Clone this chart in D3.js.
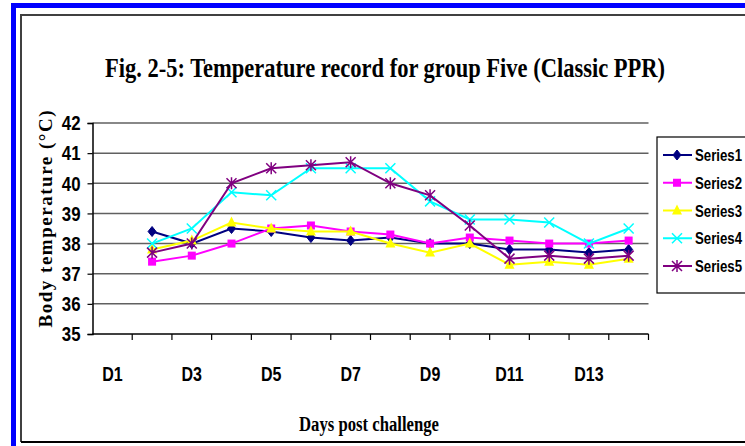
<!DOCTYPE html>
<html>
<head>
<meta charset="utf-8">
<script src="https://cdn.jsdelivr.net/npm/d3@7"></script>
<style>
body { margin: 0; background: #fff; }
svg { display: block; }
</style>
</head>
<body>
<svg width="745" height="446"></svg>
<script>
// data (D1 has no reading)
var days = ["D1","D2","D3","D4","D5","D6","D7","D8","D9","D10","D11","D12","D13","D14"];
var tickLabels = ["D1","D3","D5","D7","D9","D11","D13"];
var yTicks = [35,36,37,38,39,40,41,42];
var seriesNames = ["Series1","Series2","Series3","Series4","Series5"];
var series1 = [null,38.4,38.0,38.5,38.4,38.2,38.1,38.2,38.0,38.0,37.8,37.8,37.7,37.8];
var series2 = [null,37.4,37.6,38.0,38.5,38.6,38.4,38.3,38.0,38.2,38.1,38.0,38.0,38.1];
var series3 = [null,37.8,38.1,38.7,38.5,38.4,38.4,38.0,37.7,38.0,37.3,37.4,37.3,37.5];
var series4 = [null,38.0,38.5,39.7,39.6,40.5,40.5,40.5,39.4,38.8,38.8,38.7,38.0,38.5];
var series5 = [null,37.7,38.0,40.0,40.5,40.6,40.7,40.0,39.6,38.6,37.5,37.6,37.5,37.6];

var colors = ["#000080","#ff00ff","#ffff00","#00ffff","#800080"];
var markers = ["diamond","square","triangle","cross","star"];
var allSeries = [series1, series2, series3, series4, series5];

var sansFont = "'Liberation Sans',Arial,sans-serif";
var serifFont = "'Liberation Serif','Times New Roman',serif";

// squeeze text horizontally to mimic a narrow bold face
function narrow(sel, f) {
	sel.each(function() {
		var w = this.getComputedTextLength();
		d3.select(this).attr("textLength", w * f).attr("lengthAdjust", "spacingAndGlyphs");
	});
}

var svg = d3.select("svg");

// outer blue frame and inner chart frame
svg.append("path").attr("d", "M13.5,446 V5.5 H745").attr("fill","none")
	.attr("stroke","#0000ff").attr("stroke-width",5);
svg.append("path").attr("d", "M21,442 V15 H745").attr("fill","none")
	.attr("stroke","#404040").attr("stroke-width",2);
svg.append("line").attr("x1",21).attr("x2",745).attr("y1",442).attr("y2",442)
	.attr("stroke","#000").attr("stroke-width",2);

var x = d3.scaleBand().domain(days).range([92.5, 648.5]);
var y = d3.scaleLinear().domain([35, 42]).range([334, 123]);

// gridlines
svg.append("g").selectAll("line").data(yTicks.slice(1)).enter().append("line")
	.attr("x1", 92.5).attr("x2", 648.5)
	.attr("y1", d => y(d)).attr("y2", d => y(d))
	.attr("stroke", "#606060").attr("stroke-width", 1.5);

// y axis
var yAxis = d3.axisLeft(y).tickValues(yTicks).tickSize(5).tickFormat(d3.format("d"));
var yG = svg.append("g").attr("transform","translate(92.5,0)").call(yAxis);
yG.select(".domain").attr("stroke","#000").attr("stroke-width",1.5);
yG.selectAll(".tick line").attr("stroke","#000").attr("stroke-width",1.2);
yG.selectAll(".tick text")
	.attr("x", -12)
	.style("font-family", sansFont)
	.style("font-weight","bold").style("font-size","21px").attr("fill","#000")
	.call(narrow, 0.8);

// x axis: ticks between categories, labels on odd days
var xAxisG = svg.append("g").attr("transform","translate(0,334)");
xAxisG.append("line").attr("x1",92.5).attr("x2",648.5).attr("stroke","#000").attr("stroke-width",1.5);
xAxisG.selectAll("line.tk").data(days).enter().append("line").attr("class","tk")
	.attr("x1", d => x(d) + x.bandwidth()).attr("x2", d => x(d) + x.bandwidth())
	.attr("y1",0).attr("y2",6).attr("stroke","#000").attr("stroke-width",1.2);
xAxisG.selectAll("text").data(tickLabels).enter().append("text")
	.attr("x", d => x(d) + x.bandwidth()/2).attr("y", 47)
	.attr("text-anchor","middle")
	.style("font-family", sansFont)
	.style("font-weight","bold").style("font-size","20px")
	.text(d => d)
	.call(narrow, 0.8);

// titles
svg.append("text").attr("x", 385).attr("y", 77).attr("text-anchor","middle")
	.attr("textLength", 560).attr("lengthAdjust","spacingAndGlyphs")
	.style("font-family", serifFont)
	.style("font-weight","bold").style("font-size","28px")
	.text("Fig. 2-5: Temperature record for group Five (Classic PPR)");

svg.append("text").attr("x", 369).attr("y", 431).attr("text-anchor","middle")
	.attr("textLength", 140).attr("lengthAdjust","spacingAndGlyphs")
	.style("font-family", serifFont)
	.style("font-weight","bold").style("font-size","20px")
	.text("Days post challenge");

svg.append("text").attr("transform","translate(52,219) rotate(-90)")
	.attr("text-anchor","middle")
	.attr("textLength", 217).attr("lengthAdjust","spacing")
	.style("font-family", serifFont)
	.style("font-weight","bold").style("font-size","19px")
	.text("Body temperature (°C)");

// marker drawing
function drawMarker(g, type, color) {
	if (type == "diamond") {
		g.append("path").attr("d","M0,-5 L4,0 L0,5 L-4,0 Z").attr("fill",color).attr("stroke",color);
	} else if (type == "square") {
		g.append("rect").attr("x",-4).attr("y",-4).attr("width",8).attr("height",8).attr("fill",color);
	} else if (type == "triangle") {
		g.append("path").attr("d","M0,-6 L5,4 L-5,4 Z").attr("fill",color);
	} else if (type == "cross") {
		g.append("path").attr("d","M-5,-5 L5,5 M-5,5 L5,-5").attr("stroke",color).attr("stroke-width",1.5);
	} else {
		g.append("path").attr("d","M-5,-5 L5,5 M-5,5 L5,-5 M0,-6 L0,6").attr("stroke",color).attr("stroke-width",1.5);
	}
}

var line = d3.line()
	.defined(d => d != null)
	.x((d, i) => x(days[i]) + x.bandwidth()/2)
	.y(d => y(d));

allSeries.forEach(function(vals, s) {
	var g = svg.append("g");
	g.append("path").datum(vals).attr("d", line)
		.attr("fill","none").attr("stroke", colors[s]).attr("stroke-width", 2);
	vals.forEach(function(v, i) {
		if (v == null) return;
		var m = g.append("g").attr("transform","translate(" + (x(days[i]) + x.bandwidth()/2) + "," + y(v) + ")");
		drawMarker(m, markers[s], colors[s]);
	});
});

// legend
var leg = svg.append("g");
leg.append("rect").attr("x",657).attr("y",137).attr("width",100).attr("height",156)
	.attr("fill","#fff").attr("stroke","#000").attr("stroke-width",1.2);
var legY = d3.scalePoint().domain(seriesNames).range([155, 266]);
seriesNames.forEach(function(name, s) {
	var ly = legY(name);
	leg.append("line").attr("x1",663).attr("x2",692).attr("y1",ly).attr("y2",ly)
		.attr("stroke", colors[s]).attr("stroke-width",2);
	var m = leg.append("g").attr("transform","translate(677," + ly + ")");
	drawMarker(m, markers[s], colors[s]);
	leg.append("text").attr("x",695).attr("y", ly + 6)
		.attr("textLength", 47).attr("lengthAdjust","spacingAndGlyphs")
		.style("font-family", sansFont)
		.style("font-weight","bold").style("font-size","16px")
		.text(name);
});
</script>
</body>
</html>
